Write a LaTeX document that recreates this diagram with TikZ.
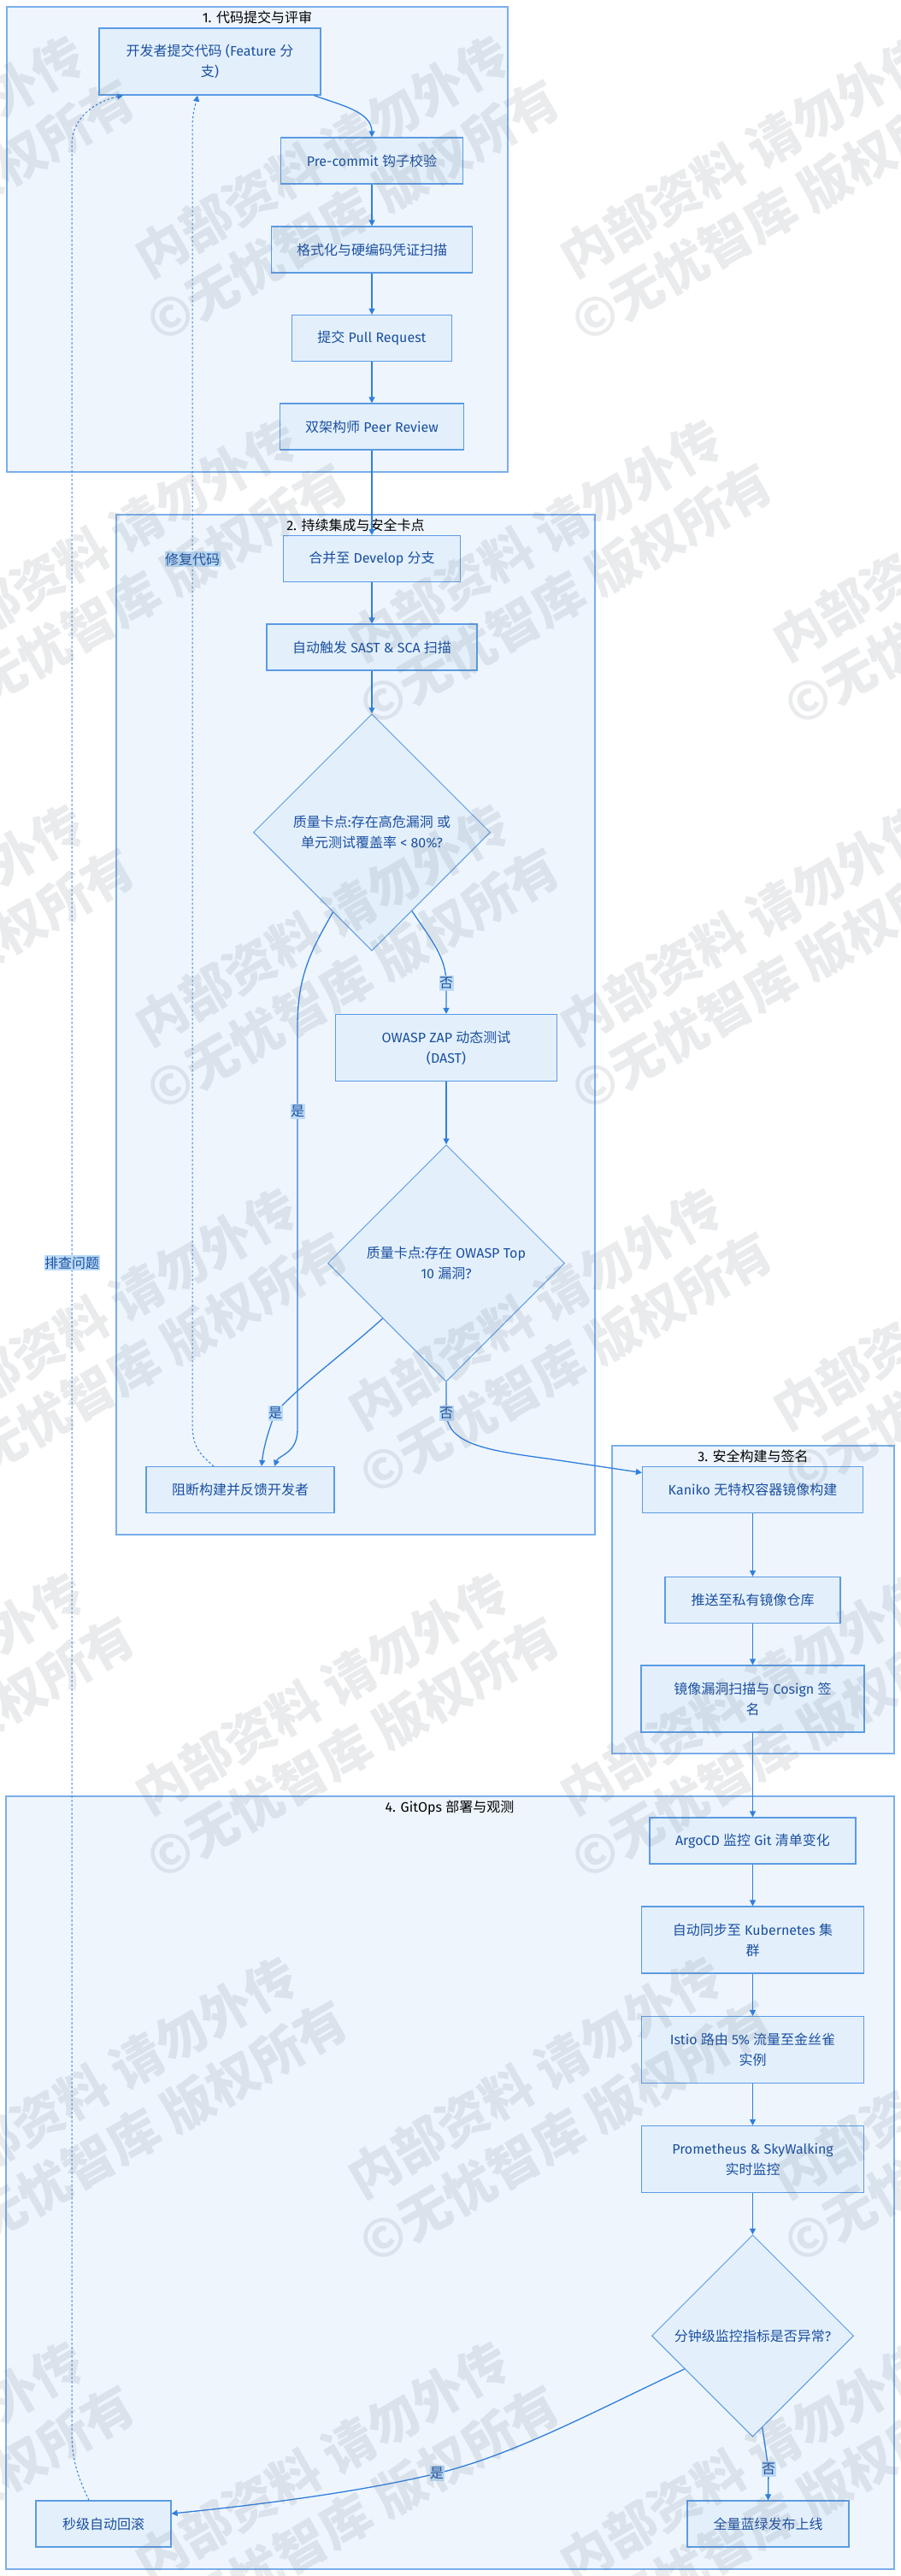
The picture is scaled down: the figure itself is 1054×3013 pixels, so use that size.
\documentclass[tikz,border=0pt]{standalone}
\usepackage{fontspec}
\setmainfont{Fira Sans}
\newfontfamily\latinfont{Fira Sans}
\newfontfamily\cjkfont{Noto Sans CJK SC}
\newfontfamily\wmfont{Noto Sans CJK SC}
\usetikzlibrary{shapes.geometric,arrows.meta,calc}
% automatic switch to the CJK font for CJK ideographs
\XeTeXinterchartokenstate=1
\newXeTeXintercharclass\CJKcls
\newcount\cjkcnt
\cjkcnt="4E00
\loop\XeTeXcharclass\cjkcnt=\CJKcls\advance\cjkcnt by 1 \ifnum\cjkcnt<"A000 \repeat
\XeTeXinterchartoks 0 \CJKcls = {\cjkfont}
\XeTeXinterchartoks 4095 \CJKcls = {\cjkfont}
\XeTeXinterchartoks \CJKcls 0 = {\latinfont}
\XeTeXinterchartoks \CJKcls 4095 = {\latinfont}
\definecolor{clfill}{HTML}{EEF5FD}
\definecolor{cldraw}{HTML}{7AAEEA}
\definecolor{ndfill}{HTML}{E3F0FC}
\definecolor{nddraw}{HTML}{5B9BE3}
\definecolor{ndtext}{HTML}{1B4F9F}
\definecolor{edgec}{HTML}{2F7FDD}
\definecolor{lblfill}{HTML}{BCDBF7}
\definecolor{wmc}{RGB}{110,120,135}
\tikzset{
  txt/.style={font=\fontsize{16}{24}\selectfont},
  proc/.style={txt, draw=nddraw, fill=ndfill, line width=1.2pt, text=ndtext, align=center, inner sep=0pt, minimum height=54pt},
  proc2/.style={proc, minimum height=78pt},
  dec/.style={txt, diamond, aspect=1, draw=nddraw, fill=ndfill, line width=1pt, text=ndtext, align=center, inner sep=0pt},
  cluster/.style={draw=cldraw, fill=clfill, line width=1.2pt, inner sep=0pt},
  ctitle/.style={txt, text=black, inner sep=0pt},
  flow/.style={draw=edgec, line width=1.3pt, -{Triangle[length=7pt,width=7pt]}},
  back/.style={flow, line width=1pt, dash pattern=on 2.5pt off 2.5pt},
  lbl/.style={txt, fill=lblfill, text=ndtext, inner xsep=0.5pt, inner ysep=2pt},
  wm/.style={text=wmc, text opacity=0.15, font={\XeTeXinterchartokenstate=0 \wmfont\bfseries\fontsize{60}{74}\selectfont}, align=center, rotate=30},
}
\begin{document}
\begin{tikzpicture}[x=1pt,y=-1pt]
\useasboundingbox (0,0) rectangle (1054,3013);
% clusters
\node[cluster, minimum width=586pt, minimum height=544pt] (c1) at (301,280) {};
\node[cluster, minimum width=560pt, minimum height=1193pt] (c2) at (416,1198.5) {};
\node[cluster, minimum width=330pt, minimum height=360pt] (c3) at (881,1871) {};
\node[cluster, minimum width=1039pt, minimum height=904pt] (c4) at (526.5,2553) {};
\node[ctitle] (t1) at (301,20) {1. 代码提交与评审};
\node[ctitle] (t2) at (416,614) {2. 持续集成与安全卡点};
\node[ctitle] (t3) at (881,1703) {3. 安全构建与签名};
\node[ctitle] (t4) at (526,2114) {4. GitOps 部署与观测};
% nodes
\node[proc2, minimum width=259pt] (A) at (245.5,72) {开发者提交代码 (Feature 分\\支)};
\node[proc, minimum width=213pt] (B) at (435,188) {Pre-commit 钩子校验};
\node[proc, minimum width=235pt] (C) at (435,292) {格式化与硬编码凭证扫描};
\node[proc, minimum width=187pt] (D) at (435,395.5) {提交 Pull Request};
\node[proc, minimum width=215pt] (E) at (435,499) {双架构师 Peer Review};
\node[proc, minimum width=207pt] (F) at (435,653.5) {合并至 Develop 分支};
\node[proc, minimum width=246pt] (G) at (435,757) {自动触发 SAST \& SCA 扫描};
\node[dec, minimum width=277pt, minimum height=277pt] (H) at (435,973.5) {质量卡点:存在高危漏洞 或\\单元测试覆盖率 < 80\%?};
\node[proc2, minimum width=259pt] (I) at (522,1225.5) {OWASP ZAP 动态测试\\(DAST)};
\node[dec, minimum width=277pt, minimum height=277pt] (J) at (522,1477.5) {质量卡点:存在 OWASP Top\\10 漏洞?};
\node[proc, minimum width=220pt] (K) at (281,1742.5) {阻断构建并反馈开发者};
\node[proc, minimum width=258pt] (L) at (880.5,1742.5) {Kaniko 无特权容器镜像构建};
\node[proc, minimum width=205pt] (M) at (880.5,1871.5) {推送至私有镜像仓库};
\node[proc2, minimum width=261pt] (N) at (880.5,1987) {镜像漏洞扫描与 Cosign 签\\名};
\node[proc, minimum width=241pt] (O) at (880.5,2153) {ArgoCD 监控 Git 清单变化};
\node[proc2, minimum width=260pt] (P) at (880.5,2269) {自动同步至 Kubernetes 集\\群};
\node[proc2, minimum width=260pt] (Q) at (880.5,2397.5) {Istio 路由 5\% 流量至金丝雀\\实例};
\node[proc2, minimum width=260pt] (R) at (880.5,2525.5) {Prometheus \& SkyWalking\\实时监控};
\node[dec, minimum width=236pt, minimum height=236pt] (S) at (880.5,2732) {分钟级监控指标是否异常?};
\node[proc, minimum width=158pt] (T) at (121,2952) {秒级自动回滚};
\node[proc, minimum width=189pt] (U) at (898.5,2952) {全量蓝绿发布上线};
% edges
\draw[flow] (A.-18.7) .. controls (395,122) and (435,130) .. (B.north);
\draw[flow] (B.south) -- (C.north);
\draw[flow] (C.south) -- (D.north);
\draw[flow] (D.south) -- (E.north);
\draw[flow] (E.south) -- (F.north);
\draw[flow] (F.south) -- (G.north);
\draw[flow] (G.south) -- (H.north);
\draw[flow] (H.-63.6) .. controls (505,1100) and (522,1120) .. (522,1150) node[lbl] (l1) {否} -- (I.north);
\draw[flow] (H.244) .. controls (365,1110) and (348,1140) .. (348,1200) -- (348,1300) node[lbl] (l2) {是} -- (348,1672) .. controls (348,1700) and (326,1702) .. ([xshift=40pt]K.north);
\draw[flow] (I.south) -- (J.north);
\draw[flow] (J.221) .. controls (400,1585) and (345,1625) .. (322,1653) node[lbl] (l3) {是} .. controls (314,1672) and (308,1695) .. ([xshift=25pt]K.north);
\draw[flow] (J.south) -- (522,1653) node[lbl] (l4) {否} .. controls (524,1688) and (565,1696) .. (640,1706) -- ([yshift=20pt]L.west);
\draw[flow] (L.south) -- (M.north);
\draw[flow] (M.south) -- (N.north);
\draw[flow] (N.south) -- (O.north);
\draw[flow] (O.south) -- (P.north);
\draw[flow] (P.south) -- (Q.north);
\draw[flow] (Q.south) -- (R.north);
\draw[flow] (R.south) -- (S.north);
\draw[flow] (S.206) .. controls (700,2818) and (600,2872) .. (511,2893) node[lbl] (l5) {是} .. controls (420,2915) and (300,2930) .. ([yshift=12pt]T.east);
\draw[flow] (S.-84) -- (899,2888) node[lbl] (l6) {否} -- (U.north);
\draw[back] ([xshift=-17pt]T.north) .. controls (90,2895) and (84,2875) .. (84,2845) -- (84,1477) node[lbl] (l7) {排查问题} -- (84,170) .. controls (84,135) and (115,118) .. ([xshift=-101.5pt]A.south);
\draw[back] ([xshift=-31pt]K.north) .. controls (232,1700) and (225,1690) .. (225,1665) -- (225,654) node[lbl] (l8) {修复代码} -- (225,150) .. controls (225,130) and (229,122) .. ([xshift=-14.5pt]A.south);
% watermark (semi-transparent, on top)
\begin{scope}
\clip (0,0) rectangle (1054,3013);
\foreach \k in {0,...,6}{
  \foreach \n in {-2,...,2}{
    \pgfmathsetmacro\cx{395+497*\n+mod(\k,2)*249}
    \pgfmathsetmacro\cy{214+449.5*\k}
    \node[wm] (wm-\k-\n) at (\cx,\cy) {内部资料 请勿外传\\©无忧智库 版权所有};
  }
}
\end{scope}
\end{tikzpicture}
\end{document}
